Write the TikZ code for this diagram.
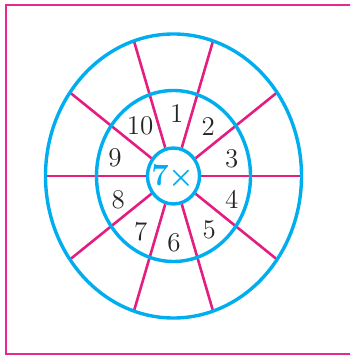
\documentclass[tikz,border=0pt]{standalone}
\usetikzlibrary{shapes.geometric,calc}
\definecolor{ringblue}{RGB}{0,174,239}
\definecolor{spokemag}{RGB}{228,30,128}
\definecolor{framemag}{RGB}{232,40,140}
\tikzset{
  ring/.style={draw=ringblue,line width=1.7pt},
  spoke/.style={draw=spokemag,line width=1.3pt},
  frame/.style={draw=framemag,line width=1pt},
  num/.style={font=\fontsize{13.5}{15}\selectfont,text=black!85,inner sep=0pt},
  hub/.style={shape=ellipse,draw=ringblue,line width=1.7pt,fill=white,
    minimum width=26pt,minimum height=28pt,inner sep=0pt},
  hubtext/.style={inner sep=0pt,text=ringblue,
    font=\fontsize{15.5}{17}\selectfont\bfseries\boldmath}
}
\begin{document}
\begin{tikzpicture}[x=0.5pt,y=-0.5pt]
\useasboundingbox (0,0) rectangle (350,356);
\clip (0,0) rectangle (350,356);
\draw[frame] (6,5) rectangle (362,354);
\coordinate (O) at (173.5,176);
\node[hub] (c) at (O) {};
\node[hubtext] (t) at ($(O)+(-0.5,1)$) {7$\times$};
\foreach \i in {0,...,9}{
  \coordinate (p\i) at ($(O)+({128*cos(36*\i)},{142*sin(36*\i)})$);
  \draw[spoke] (c) -- (p\i);
}
\draw[ring] (O) ellipse [x radius=128, y radius=142];
\draw[ring] (O) ellipse [x radius=77, y radius=85.5];
\node[num] (n1) at (176.7,113.3) {1};
\node[num] (n2) at (208.3,126.7) {2};
\node[num] (n3) at (231.7,159) {3};
\node[num] (n4) at (231.7,199.3) {4};
\node[num] (n5) at (209.3,230) {5};
\node[num] (n6) at (174,242.7) {6};
\node[num] (n7) at (140.7,231.7) {7};
\node[num] (n8) at (118.3,200) {8};
\node[num] (n9) at (115,158.3) {9};
\node[num] (n10) at (140,126) {10};
\end{tikzpicture}
\end{document}
